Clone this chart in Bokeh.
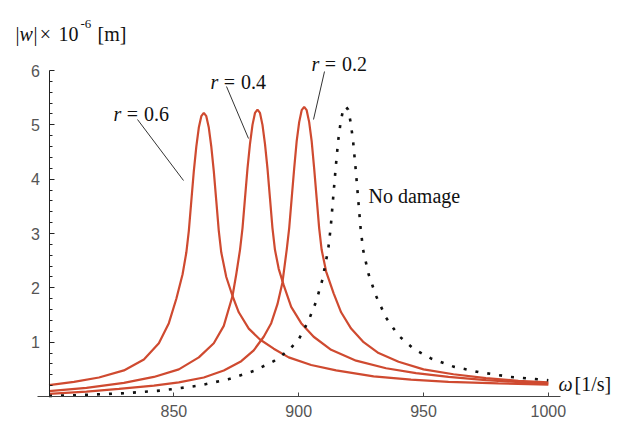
from bokeh.plotting import figure
from bokeh.models import LinearAxis, FixedTicker, Range1d, Label
from bokeh.embed import file_html
from bokeh.resources import INLINE

# ---------------- data ----------------
omega_r06 = [800, 810, 820, 830, 838, 844, 848, 851, 853.5, 855, 856, 857, 858, 859, 860, 861,
             862, 863, 864, 865, 866, 867, 868, 869, 871, 873.5, 876, 880, 884.5, 890, 896,
             905, 915, 930, 945, 960, 980, 1000]
w_r06 = [0.21, 0.27, 0.35, 0.48, 0.68, 0.98, 1.35, 1.8, 2.25, 2.65, 3.05, 3.6, 4.15, 4.6, 4.95,
         5.16, 5.22, 5.16, 4.95, 4.6, 4.15, 3.6, 3.05, 2.65, 2.2, 1.85, 1.55, 1.25, 1.05, 0.88,
         0.72, 0.58, 0.48, 0.37, 0.31, 0.27, 0.24, 0.22]

omega_r04 = [800, 815, 830, 842, 852, 860, 866, 870, 873.5, 875, 876.5, 877.5, 878.5, 879.5,
             880.5, 881.5, 882.5, 883.5, 884.5, 885.5, 886.5, 887.5, 888.5, 889.5, 890.5, 892,
             894, 897, 901, 906, 913, 923, 935, 947, 960, 975, 990, 1000]
w_r04 = [0.10, 0.16, 0.25, 0.36, 0.50, 0.72, 0.98, 1.3, 1.85, 2.25, 2.7, 3.1, 3.65, 4.2,
         4.65, 5.0, 5.22, 5.28, 5.22, 5.0, 4.65, 4.2, 3.65, 3.1, 2.7, 2.35,
         2.05, 1.65, 1.35, 1.1, 0.86, 0.66, 0.52, 0.43, 0.36, 0.30, 0.26, 0.24]

omega_r02 = [800, 815, 828, 842, 852, 862, 870, 877, 882, 886, 889, 891.5, 893.5, 895.2, 896.2,
             897.2, 898.2, 899.2, 900.2, 901.2, 902.2, 903.2, 904.2, 905.2, 906.2, 907.2, 908.2,
             909.2, 911, 914, 917, 921, 926, 932, 940, 950, 962, 975, 988, 1000]
w_r02 = [0.05, 0.09, 0.14, 0.20, 0.26, 0.35, 0.48, 0.65, 0.85, 1.1, 1.35, 1.7, 2.1, 2.7, 3.1,
         3.65, 4.2, 4.7, 5.05, 5.27, 5.33, 5.27, 5.05, 4.7, 4.2, 3.65, 3.1,
         2.7, 2.3, 1.9, 1.55, 1.25, 1.0, 0.8, 0.64, 0.5, 0.41, 0.34, 0.29, 0.26]

omega_nd = [800, 815, 830, 845, 860, 872, 882, 890, 896, 900, 904, 907, 909.5, 911.8, 912.8,
            913.8, 914.8, 915.8, 916.8, 917.8, 918.8, 919.8, 920.8, 921.8, 922.8, 923.8, 924.8,
            925.8, 928, 931, 935, 940, 946, 953, 962, 972, 985, 1000]
w_nd = [0.01, 0.03, 0.06, 0.11, 0.2, 0.32, 0.47, 0.65, 0.85, 1.05, 1.4, 1.75, 2.15, 2.7, 3.1,
        3.65, 4.2, 4.7, 5.05, 5.28, 5.34, 5.28, 5.05, 4.7, 4.2, 3.65, 3.1,
        2.7, 2.25, 1.85, 1.45, 1.12, 0.88, 0.7, 0.55, 0.45, 0.36, 0.3]

x_ticks = [850, 900, 950, 1000]
y_ticks = [1, 2, 3, 4, 5, 6]

# ---------------- layout helpers (pixel -> data) ----------------
W, H = 621, 421
X0 = 780.57
SX = 2.4967
YTOP = 7.289
SY = 54.33


def dx(px):
    return X0 + px / SX


def dy(py):
    return YTOP - py / SY


RED = "#CF4A30"
SERIF = "Liberation Serif"

p = figure(width=W, height=H, x_range=Range1d(X0, X0 + W / SX),
           y_range=Range1d(YTOP - H / SY, YTOP),
           x_axis_type=None, y_axis_type=None, toolbar_location=None,
           output_backend="svg", min_border=0)
p.outline_line_color = None
p.grid.visible = False
p.background_fill_color = "white"
p.border_fill_color = "white"

# axes
xaxis = LinearAxis(fixed_location=0, bounds=(795.4, 1004.9),
                   ticker=FixedTicker(ticks=x_ticks),
                   major_tick_in=4, major_tick_out=0, minor_tick_in=0, minor_tick_out=0,
                   axis_line_color="#444444", major_tick_line_color="#444444",
                   major_label_text_font="Liberation Sans",
                   major_label_text_font_size="16px",
                   major_label_text_color="#555555", major_label_standoff=8)
p.add_layout(xaxis, "below")

minor_y = [round(0.2 * i, 1) for i in range(1, 30) if i % 5 != 0]
yaxis = LinearAxis(fixed_location=800, bounds=(0, 6),
                   ticker=FixedTicker(ticks=y_ticks, minor_ticks=minor_y),
                   major_tick_in=5, major_tick_out=0, minor_tick_in=3, minor_tick_out=0,
                   axis_line_color="#222222", major_tick_line_color="#222222",
                   minor_tick_line_color="#222222",
                   major_label_text_font="Liberation Sans",
                   major_label_text_font_size="16px",
                   major_label_text_color="#555555", major_label_standoff=9)
p.add_layout(yaxis, "left")

# curves
p.line(omega_r06, w_r06, line_color=RED, line_width=2.2)
p.line(omega_r04, w_r04, line_color=RED, line_width=2.2)
p.line(omega_r02, w_r02, line_color=RED, line_width=2.2)
p.line(omega_nd, w_nd, line_color="#111111", line_width=2.6, line_dash="3 9")


def lab(px, py, text, size="20px", style="normal", align="left", color="#111111"):
    p.add_layout(Label(x=dx(px), y=dy(py), text=text, text_font=SERIF,
                       text_font_size=size, text_font_style=style, text_align=align,
                       text_baseline="alphabetic", text_color=color))


# r labels: (x of "r", baseline)
for x0, base, val in [(113, 113, "0.6"), (210, 81, "0.4"), (311, 63, "0.2")]:
    lab(x0, base, "r", style="italic")
    lab(x0 + 19, base, "=", align="center")
    lab(x0 + 30.5, base, val)

# leader lines
lead_x0 = [dx(137), dx(226), dx(324)]
lead_y0 = [dy(119), dy(86), dy(71)]
lead_x1 = [dx(183), dx(248), dx(313)]
lead_y1 = [dy(180), dy(138), dy(119)]
p.segment(lead_x0, lead_y0, lead_x1, lead_y1, line_color="#333333", line_width=1)

lab(368, 195, "No damage", size="20px")

# x-axis title
lab(558, 383, "\u03c9", size="20px", style="italic")
lab(574, 383, "[1/s]", size="20px")

# y-axis title
lab(15, 33, "|", size="20px")
lab(19, 33, "w", size="20px", style="italic")
lab(33, 33, "|", size="20px")
lab(45, 33, "\u00d7", size="20px", align="center")
lab(58, 33, "10", size="20px")
lab(80, 23, "-6", size="13px")
lab(97, 33, "[m]", size="20px")

open("out.html", "w").write(file_html(p, INLINE))
